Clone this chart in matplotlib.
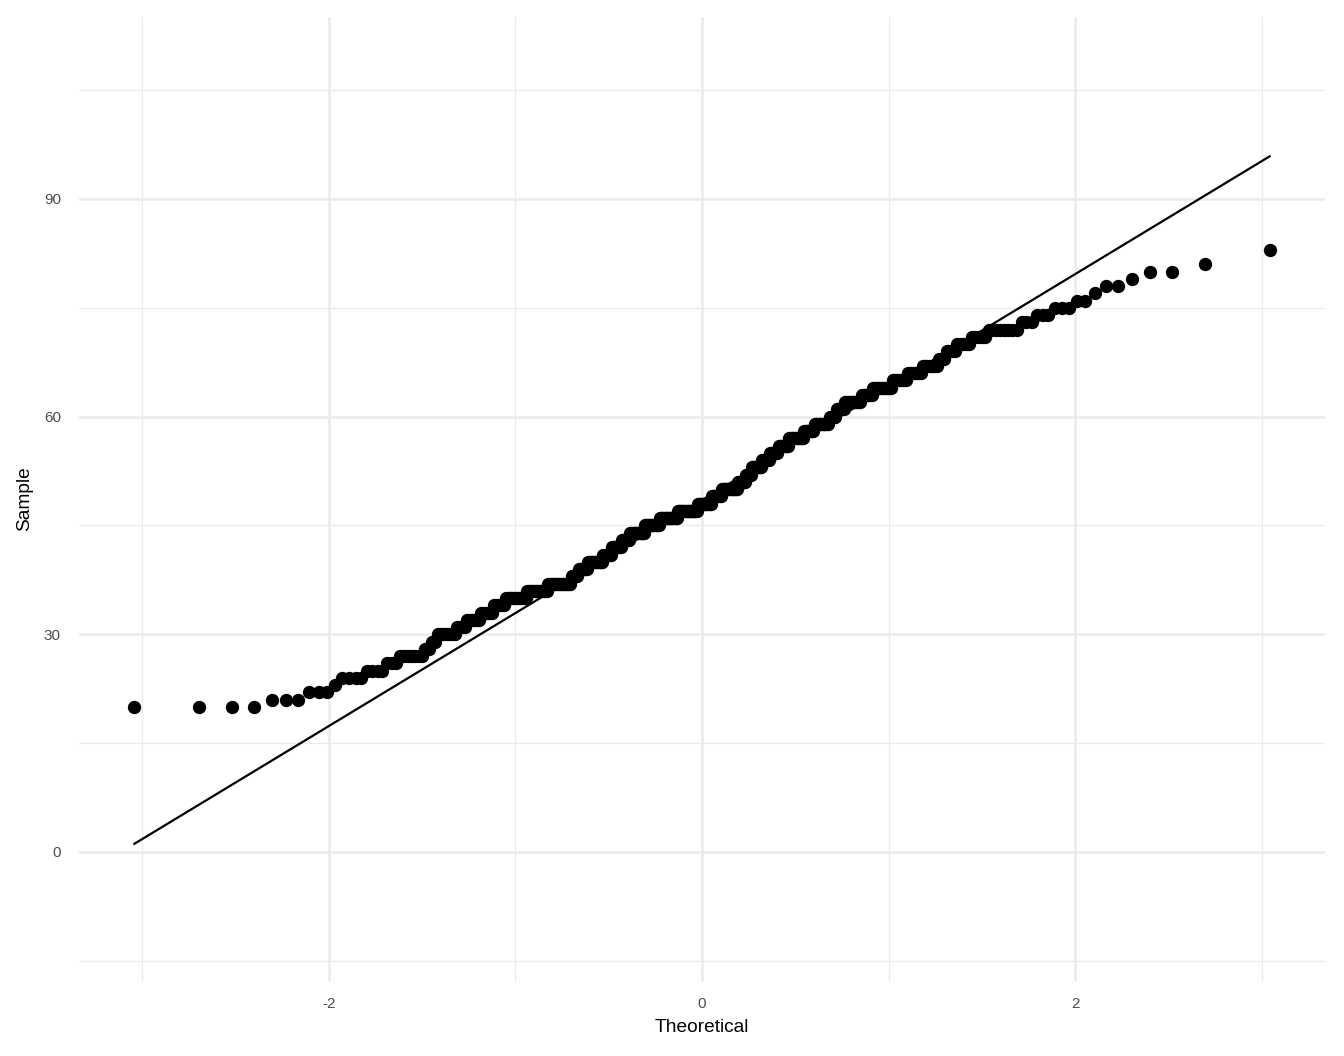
import numpy as np
import matplotlib
matplotlib.use("Agg")
import matplotlib.pyplot as plt
from statistics import NormalDist

# Sample values (integer levels) and how many observations sit at each level,
# read off the step pattern of the QQ plot
values = [20, 21, 22, 23, 24, 25, 26, 27, 28, 29, 30, 31, 32, 33, 34, 35, 36, 37,
          38, 39, 40, 41, 42, 43, 44, 45, 46, 47, 48, 49, 50, 51, 52, 53, 54, 55,
          56, 57, 58, 59, 60, 61, 62, 63, 64, 65, 66, 67, 68, 69, 70, 71, 72, 73,
          74, 75, 76, 77, 78, 79, 80, 81, 83]
counts = [4, 3, 3, 1, 4, 4, 3, 7, 2, 2, 7, 4, 6, 6, 6, 12, 13, 16,
          5, 7, 12, 7, 8, 7, 13, 13, 16, 18, 13, 9, 15, 7, 5, 9, 7, 7,
          9, 12, 8, 11, 5, 6, 11, 7, 11, 8, 7, 7, 3, 4, 5, 5, 8, 3,
          3, 3, 2, 1, 2, 1, 2, 1, 1]

x_ticks = [-2, 0, 2]
y_ticks = [0, 30, 60, 90]

sample = np.sort(np.repeat(values, counts)).astype(float)
n = len(sample)
nd = NormalDist()
probs = (np.arange(1, n + 1) - 0.5) / n
theo = np.array([nd.inv_cdf(p) for p in probs])

# qq line through quartiles (ggplot stat_qq_line)
q1, q3 = np.quantile(sample, [0.25, 0.75])
t1, t3 = nd.inv_cdf(0.25), nd.inv_cdf(0.75)
slope = (q3 - q1) / (t3 - t1)
intercept = q1 - slope * t1
lx = np.array([theo.min(), theo.max()])
ly = intercept + slope * lx

plt.rcParams['font.family'] = ['Liberation Sans', 'DejaVu Sans']

fig = plt.figure(figsize=(13.44, 10.56), dpi=100)
ax = fig.add_axes([79 / 1344, 1 - 980.7 / 1056, (1325 - 79) / 1344, (980.7 - 17) / 1056])

ax.scatter(theo, sample, s=92, color='black', linewidths=0, zorder=3)
ax.plot(lx, ly, color='black', lw=1.6, zorder=4)

ax.set_xlim(-3.34, 3.34)
ax.set_ylim(-17.74, 115.08)

ax.set_xticks(x_ticks)
ax.set_xticklabels([str(t) for t in x_ticks])
ax.set_yticks(y_ticks)
ax.set_yticklabels([str(t) for t in y_ticks])
ax.set_xticks([-3, -1, 1, 3], minor=True)
ax.set_yticks([-15, 15, 45, 75, 105], minor=True)

ax.grid(which='major', color='#EBEBEB', lw=1.8)
ax.grid(which='minor', color='#EBEBEB', lw=0.9)
ax.set_axisbelow(True)
for s in ax.spines.values():
    s.set_visible(False)
ax.tick_params(which='both', length=0)
ax.tick_params(axis='x', pad=12, labelsize=11, labelcolor='#4D4D4D')
ax.tick_params(axis='y', pad=13, labelsize=11, labelcolor='#4D4D4D')

ax.set_xlabel('Theoretical', fontsize=13.75, color='black', va='center')
ax.set_ylabel('Sample', fontsize=13.75, color='black', va='center')
ax.xaxis.set_label_coords(0.5, (980.7 - 1027) / 963.7)
ax.yaxis.set_label_coords((25 - 79) / 1246, 0.5)

fig.savefig('out.png', dpi=100, facecolor='white')
